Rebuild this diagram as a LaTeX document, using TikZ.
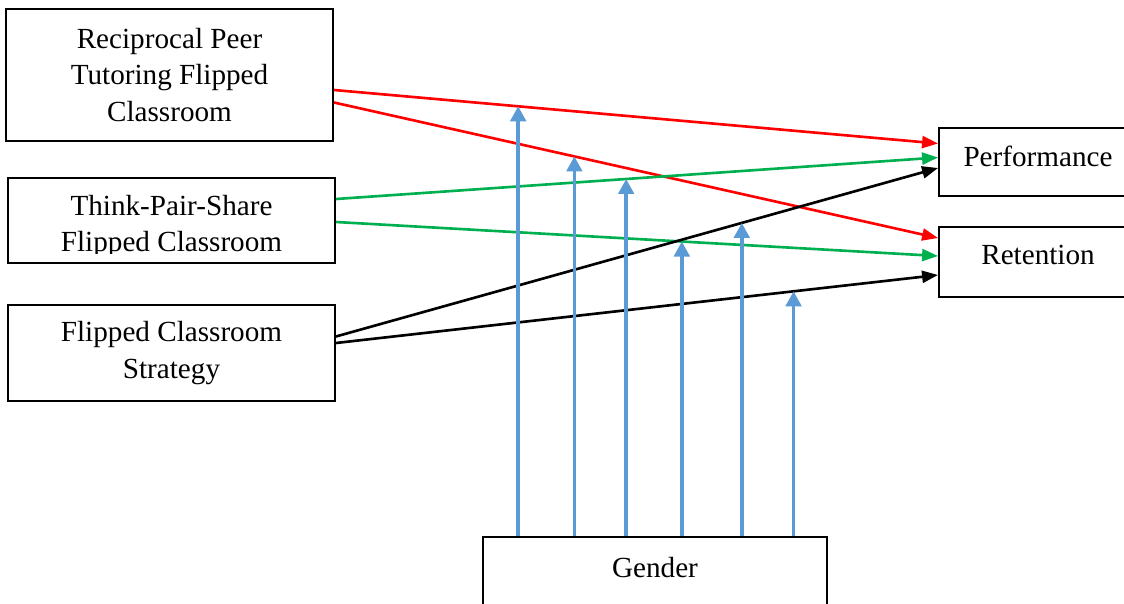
\documentclass[tikz,border=0pt]{standalone}
\usepackage{fontspec}
\setmainfont{Liberation Serif}
\usetikzlibrary{arrows.meta,calc}
\definecolor{linkred}{RGB}{255,0,0}
\definecolor{linkgreen}{RGB}{0,176,80}
\definecolor{genderblue}{RGB}{91,155,213}

\begin{document}
\begin{tikzpicture}[x=0.02cm, y=-0.02cm,
        box/.style={draw, line width=1.1pt, rectangle, inner sep=0pt},
        txt/.style={align=center, inner sep=0pt, font=\fontsize{16.6}{21}\selectfont},
        link/.style={-{Triangle[length=0.32cm,width=0.24cm]}, line width=1.5pt},
        mod/.style={-{Triangle[length=0.3cm,width=0.31cm]}, line width=2pt, genderblue}
    ]
        \clip (0,0) rectangle (1124,604);

        % Strategies
        \node[box, txt, minimum width=6.54cm, minimum height=2.64cm] (rptfc) at (169.5,75) {Reciprocal Peer\\Tutoring Flipped\\Classroom};
        \node[box, minimum width=6.54cm, minimum height=1.70cm] (tpsfc) at (171.5,220.5) {};
        \begin{scope}
            \clip (tpsfc.north west) rectangle ([yshift=0.2cm]tpsfc.south east);
            \node[txt] (tpstext) at (171.5,226.5) {Think-Pair-Share\\Flipped Classroom};
        \end{scope}
        \node[box, txt, minimum width=6.54cm, minimum height=1.92cm] (fcs) at (171.5,353) {Flipped Classroom\\Strategy};

        % Outcomes
        \node[box, txt, minimum width=3.96cm, text height=0.774cm, text depth=0.586cm] (perf) at (1038,162) {Performance};
        \node[box, txt, minimum width=3.96cm, text height=0.746cm, text depth=0.654cm] (ret) at (1038,262) {Retention};

        % Moderator
        \node[box, txt, minimum width=6.88cm, text height=0.8cm, text depth=1.0cm] (gender) at (655,582) {Gender};

        % Links
        \draw[link, linkred] ([yshift=-0.3cm]rptfc.east) coordinate (r1s) -- ([yshift=0.37cm]perf.west) coordinate (r1e);
        \draw[link, linkred] ([yshift=-0.55cm]rptfc.east) coordinate (r2s) -- ([yshift=0.48cm]ret.west) coordinate (r2e);
        \draw[link, linkgreen] ([yshift=0.43cm]tpsfc.east) coordinate (g1s) -- ([yshift=0.09cm]perf.west) coordinate (g1e);
        \draw[link, linkgreen] ([yshift=-0.03cm]tpsfc.east) coordinate (g2s) -- ([yshift=0.12cm]ret.west) coordinate (g2e);
        \draw[link] ([yshift=0.33cm]fcs.east) coordinate (b1s) -- ([yshift=-0.12cm]perf.west) coordinate (b1e);
        \draw[link] ([yshift=0.2cm]fcs.east) coordinate (b2s) -- ([yshift=-0.26cm]ret.west) coordinate (b2e);

        % Gender on each link
        \coordinate (m1) at ($(r1s)!0.305!(r1e)$);
        \coordinate (m2) at ($(r2s)!0.398!(r2e)$);
        \coordinate (m3) at ($(g1s)!0.482!(g1e)$);
        \coordinate (m4) at ($(g2s)!0.5745!(g2e)$);
        \coordinate (m5) at ($(b1s)!0.674!(b1e)$);
        \coordinate (m6) at ($(b2s)!0.76!(b2e)$);

        \draw[mod] (gender.north -| m1) -- (m1);
        \draw[mod] (gender.north -| m2) -- (m2);
        \draw[mod] (gender.north -| m3) -- (m3);
        \draw[mod] (gender.north -| m4) -- (m4);
        \draw[mod] (gender.north -| m5) -- (m5);
        \draw[mod] (gender.north -| m6) -- (m6);
    \end{tikzpicture}
\end{document}
